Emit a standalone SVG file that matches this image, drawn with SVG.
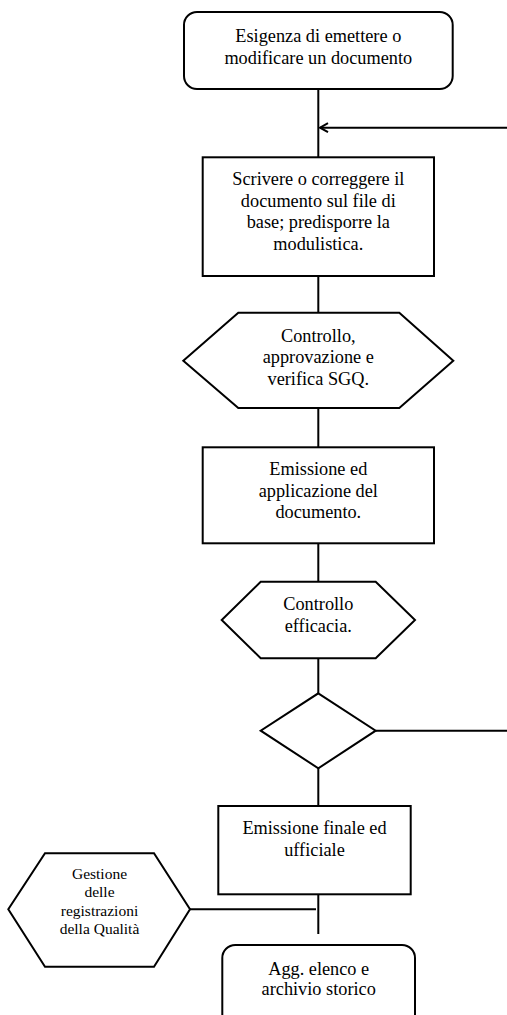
<svg xmlns="http://www.w3.org/2000/svg" width="507" height="1015" viewBox="0 0 507 1015">
<style>
.s{fill:#fff;stroke:#000;stroke-width:2}
.c{fill:none;stroke:#000;stroke-width:2}
text{font-family:"Liberation Serif","Times New Roman",serif;font-size:18.3px;fill:#000;text-anchor:middle}
.sm{font-size:15.5px}
</style>
<defs>
<marker id="ah" markerWidth="12" markerHeight="12" refX="9" refY="6" orient="auto" markerUnits="userSpaceOnUse">
<path d="M1,1.5 L9,6 L1,10.5" fill="none" stroke="#000" stroke-width="2"/>
</marker>
</defs>
<g id="connectors">
<line class="c" x1="318.3" y1="89" x2="318.3" y2="157"/>
<line class="c" x1="507" y1="127.7" x2="320" y2="127.7" marker-end="url(#ah)"/>
<line class="c" x1="318.3" y1="276" x2="318.3" y2="313"/>
<line class="c" x1="318.3" y1="408" x2="318.3" y2="447"/>
<line class="c" x1="318.3" y1="543" x2="318.3" y2="582"/>
<line class="c" x1="318.3" y1="658" x2="318.3" y2="693"/>
<line class="c" x1="375.7" y1="730.7" x2="507" y2="730.7"/>
<line class="c" x1="318.3" y1="768" x2="318.3" y2="806"/>
<line class="c" x1="318.3" y1="894" x2="318.3" y2="934"/>
<line class="c" x1="190" y1="909.3" x2="316" y2="909.3"/>
</g>
<g id="n1">
<rect class="s" x="184" y="12" width="268.7" height="77" rx="13"/>
<text x="318.3" y="42">Esigenza di emettere o</text>
<text x="318.3" y="64">modificare un documento</text>
</g>
<g id="n2">
<rect class="s" x="202.7" y="157.3" width="231.3" height="118.7"/>
<text x="318.3" y="185">Scrivere o correggere il</text>
<text x="318.3" y="206.7">documento sul file di</text>
<text x="318.3" y="228.3">base; predisporre la</text>
<text x="318.3" y="250">modulistica.</text>
</g>
<g id="n3">
<polygon class="s" points="238.3,312.7 399.3,312.7 453.3,360.7 399.3,408 238.3,408 183.3,360.7"/>
<text x="318.3" y="341.7">Controllo,</text>
<text x="318.3" y="363.3">approvazione e</text>
<text x="318.3" y="385">verifica SGQ.</text>
</g>
<g id="n4">
<rect class="s" x="202.7" y="447.3" width="231.3" height="96"/>
<text x="318.3" y="475">Emissione ed</text>
<text x="318.3" y="496.7">applicazione del</text>
<text x="318.3" y="518.3">documento.</text>
</g>
<g id="n5">
<polygon class="s" points="260.7,581.7 375.7,581.7 415,620 375.7,658.3 260.7,658.3 221.7,620"/>
<text x="318.3" y="610">Controllo</text>
<text x="318.3" y="631.7">efficacia.</text>
</g>
<g id="n6">
<polygon class="s" points="318.3,693.3 375.7,730.7 318.3,768.3 260.7,730.7"/>
</g>
<g id="n7">
<rect class="s" x="218.3" y="806" width="192.4" height="88.3"/>
<text x="314.5" y="834">Emissione finale ed</text>
<text x="314.5" y="855.7">ufficiale</text>
</g>
<g id="n8">
<polygon class="s" points="45,853.3 154,853.3 190,909.3 154,966.7 45,966.7 8.3,909.3"/>
<text class="sm" x="99.5" y="879">Gestione</text>
<text class="sm" x="99.5" y="897.3">delle</text>
<text class="sm" x="99.5" y="916">registrazioni</text>
<text class="sm" x="99.5" y="934.3">della Qualità</text>
</g>
<g id="n9">
<rect class="s" x="222.3" y="945" width="192.7" height="85" rx="13"/>
<text x="318.7" y="975">Agg. elenco e</text>
<text x="318.7" y="995">archivio storico</text>
</g>
</svg>
